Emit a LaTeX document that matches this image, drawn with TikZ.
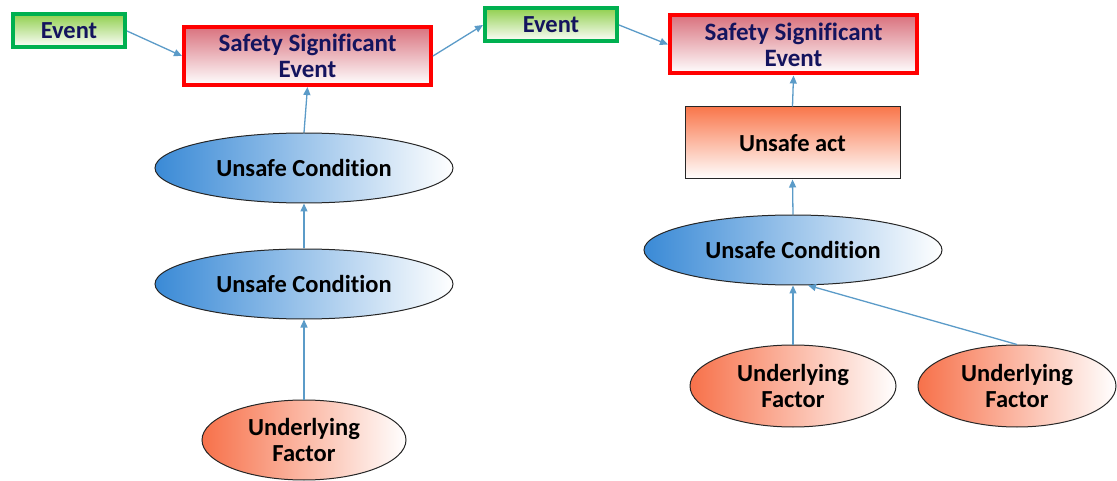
\documentclass[tikz,border=0pt]{standalone}
\usepackage{fontspec}
\setmainfont{Carlito}[Ligatures=NoCommon]
\usetikzlibrary{shapes.geometric,arrows.meta}
\definecolor{navytext}{HTML}{14145E}
\definecolor{linkblue}{HTML}{5B9BC8}
\definecolor{evgreen}{HTML}{00B050}
\definecolor{evgreenfill}{HTML}{92D050}
\definecolor{ssered}{HTML}{FF0000}
\definecolor{ssefill}{HTML}{D9727E}
\definecolor{condblue}{HTML}{3A8AD6}
\definecolor{factororange}{HTML}{F7714A}
\definecolor{actorange}{HTML}{F9774C}
\tikzset{
  lbl/.style={font=\fontsize{24.5}{26}\selectfont\bfseries, align=center, inner sep=0pt},
  eventbox/.style={lbl, text=navytext, draw=evgreen, line width=4pt,
    top color=evgreenfill, bottom color=white, minimum width=112pt, minimum height=33pt},
  ssebox/.style={lbl, font=\fontsize{25}{26}\selectfont\bfseries, text=navytext, draw=ssered, line width=4pt,
    top color=ssefill, bottom color=white, minimum width=247pt, minimum height=58pt},
  actbox/.style={lbl, text=black, draw=black!85, line width=1pt,
    top color=actorange, bottom color=white, minimum width=215pt, minimum height=72pt},
  condell/.style={lbl, ellipse, draw=black!85, line width=1pt,
    left color=condblue, right color=white, minimum width=298pt, minimum height=70pt},
  factorell/.style={lbl, ellipse, draw=black!85, line width=1pt,
    left color=factororange, right color=white, minimum height=82pt},
  link/.style={draw=linkblue, line width=1.3pt, -{Triangle[length=8pt,width=7pt]}}
}
\begin{document}
\begin{tikzpicture}[x=1pt,y=-1pt]
  \useasboundingbox (0,0) rectangle (1117,481);

  % left chain
  \node[eventbox] (ev1) at (69,31) {Event};
  \node[ssebox] (sse1) at (307.5,56) {Safety Significant\\Event};
  \node[condell] (ucA) at (304,168) {Unsafe Condition};
  \node[condell] (ucB) at (304,284) {Unsafe Condition};
  \node[factorell, minimum width=204pt, minimum height=80pt] (ufA) at (304,440) {Underlying\\Factor};

  % right chain
  \node[eventbox, minimum width=132pt] (ev2) at (551,25) {Event};
  \node[ssebox] (sse2) at (793.5,44.5) {Safety Significant\\Event};
  \node[actbox] (act) at (792.5,143) {Unsafe act};
  \node[condell] (ucC) at (793,250) {Unsafe Condition};
  \node[factorell, minimum width=206pt] (ufB) at (793,386) {Underlying\\Factor};
  \node[factorell, minimum width=198pt] (ufC) at (1017,386) {Underlying\\Factor};

  % connectors
  \draw[link] (ev1.east) -- (sse1.west);
  \draw[link] (sse1.east) -- (ev2.west);
  \draw[link] (ev2.east) -- (sse2.west);
  \draw[link] (ucA.north) -- (sse1.south);
  \draw[link] (ucB.north) -- (ucA.south);
  \draw[link] (ufA.north) -- (ucB.south);
  \draw[link] (act.north) -- (sse2.south);
  \draw[link] (ucC.north) -- (act.south);
  \draw[link] (ufB.north) -- (ucC.south);
  \draw[link] (ufC.north) -- (ucC.-67);
\end{tikzpicture}
\end{document}
